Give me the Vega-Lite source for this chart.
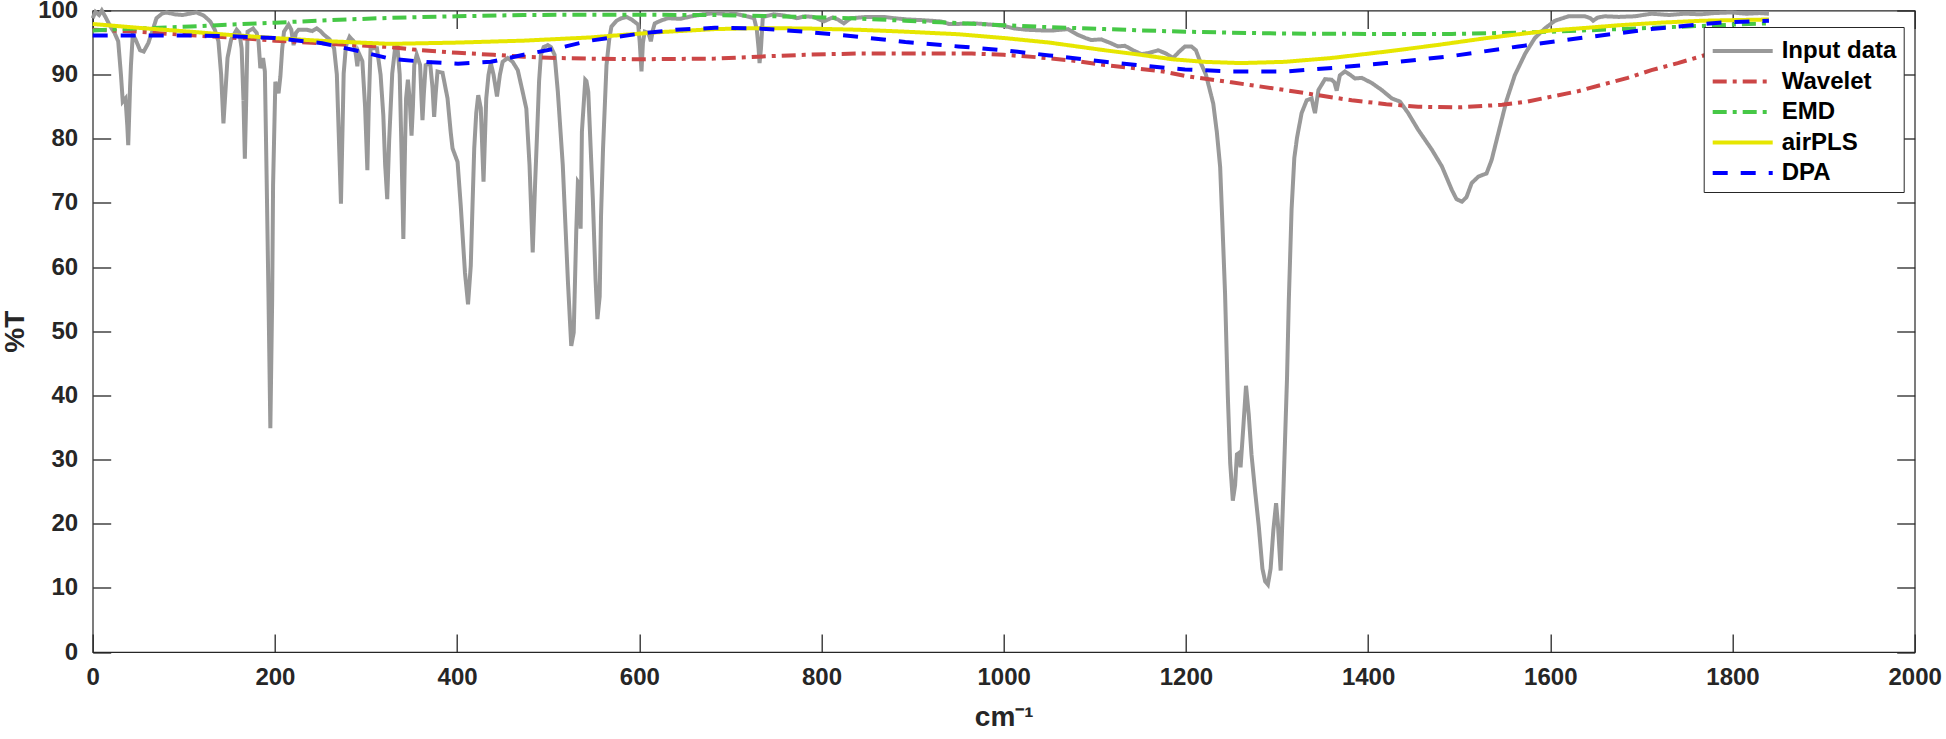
{
  "$schema": "https://vega.github.io/schema/vega-lite/v6.json",
  "width": 1822,
  "height": 641.5,
  "autosize": {"type": "none"},
  "padding": {"left": 92.7, "top": 10.5, "right": 31.3, "bottom": 87},
  "background": "white",
  "config": {
    "view": {"stroke": "#262626", "strokeWidth": 1.2},
    "font": "Liberation Sans"
  },
  "data": {
    "values": [
      {"series":"Input data","x":0,"y":98.8},{"series":"Input data","x":3,"y":99.8},{"series":"Input data","x":7,"y":99.3},{"series":"Input data","x":10,"y":100},{"series":"Input data","x":14,"y":99.0},{"series":"Input data","x":19,"y":97.6},{"series":"Input data","x":24,"y":96.5},{"series":"Input data","x":28,"y":95.2},{"series":"Input data","x":31,"y":90},{"series":"Input data","x":33,"y":85.8},{"series":"Input data","x":36,"y":86.3},{"series":"Input data","x":38,"y":82},{"series":"Input data","x":39,"y":79.0},{"series":"Input data","x":41,"y":88},{"series":"Input data","x":42,"y":91.5},{"series":"Input data","x":44,"y":96.2},{"series":"Input data","x":47,"y":95.5},{"series":"Input data","x":52,"y":93.8},{"series":"Input data","x":56,"y":93.6},{"series":"Input data","x":61,"y":94.9},{"series":"Input data","x":66,"y":97.0},{"series":"Input data","x":70,"y":98.8},{"series":"Input data","x":76,"y":99.5},{"series":"Input data","x":81,"y":99.7},{"series":"Input data","x":90,"y":99.4},{"series":"Input data","x":99,"y":99.3},{"series":"Input data","x":106,"y":99.5},{"series":"Input data","x":114,"y":99.7},{"series":"Input data","x":122,"y":99.2},{"series":"Input data","x":129,"y":98.3},{"series":"Input data","x":134,"y":97.0},{"series":"Input data","x":138,"y":95.2},{"series":"Input data","x":141,"y":90},{"series":"Input data","x":143.5,"y":82.4},{"series":"Input data","x":146,"y":88},{"series":"Input data","x":148,"y":92.6},{"series":"Input data","x":152,"y":95.5},{"series":"Input data","x":158,"y":97.0},{"series":"Input data","x":161,"y":96.5},{"series":"Input data","x":163.5,"y":94.1},{"series":"Input data","x":165.5,"y":86},{"series":"Input data","x":167,"y":76.9},{"series":"Input data","x":168.5,"y":86},{"series":"Input data","x":170,"y":96.7},{"series":"Input data","x":176,"y":97.2},{"series":"Input data","x":180,"y":96.5},{"series":"Input data","x":182,"y":95.2},{"series":"Input data","x":184,"y":91.0},{"series":"Input data","x":187,"y":92.6},{"series":"Input data","x":189,"y":90.5},{"series":"Input data","x":191,"y":73.3},{"series":"Input data","x":193,"y":55},{"series":"Input data","x":195,"y":34.9},{"series":"Input data","x":197,"y":55},{"series":"Input data","x":198,"y":72.8},{"series":"Input data","x":200.5,"y":88.9},{"series":"Input data","x":204,"y":87.1},{"series":"Input data","x":206,"y":89.7},{"series":"Input data","x":208,"y":94},{"series":"Input data","x":210,"y":96.7},{"series":"Input data","x":215,"y":97.8},{"series":"Input data","x":218,"y":97},{"series":"Input data","x":220.5,"y":94.6},{"series":"Input data","x":223,"y":96.5},{"series":"Input data","x":226,"y":97.0},{"series":"Input data","x":235,"y":97.0},{"series":"Input data","x":241,"y":96.8},{"series":"Input data","x":246,"y":97.2},{"series":"Input data","x":250,"y":96.8},{"series":"Input data","x":254,"y":96.2},{"series":"Input data","x":260,"y":95.5},{"series":"Input data","x":265,"y":94.1},{"series":"Input data","x":268,"y":90},{"series":"Input data","x":270,"y":81.1},{"series":"Input data","x":272.5,"y":69.9},{"series":"Input data","x":274,"y":80},{"series":"Input data","x":275.5,"y":90.2},{"series":"Input data","x":278,"y":94.5},{"series":"Input data","x":282,"y":95.9},{"series":"Input data","x":286.5,"y":95.2},{"series":"Input data","x":289,"y":93},{"series":"Input data","x":290.5,"y":91.3},{"series":"Input data","x":292,"y":93.4},{"series":"Input data","x":296,"y":92.1},{"series":"Input data","x":299,"y":85},{"series":"Input data","x":301.5,"y":75.1},{"series":"Input data","x":303,"y":85},{"series":"Input data","x":305,"y":94.1},{"series":"Input data","x":312,"y":94.1},{"series":"Input data","x":316,"y":90},{"series":"Input data","x":319,"y":83.7},{"series":"Input data","x":321,"y":76},{"series":"Input data","x":323.3,"y":70.6},{"series":"Input data","x":325.5,"y":80},{"series":"Input data","x":328.8,"y":90.2},{"series":"Input data","x":332,"y":94.2},{"series":"Input data","x":334.5,"y":94.4},{"series":"Input data","x":337,"y":90},{"series":"Input data","x":339,"y":78},{"series":"Input data","x":341,"y":64.4},{"series":"Input data","x":343,"y":80},{"series":"Input data","x":344,"y":86.3},{"series":"Input data","x":346,"y":89.2},{"series":"Input data","x":348,"y":86},{"series":"Input data","x":350,"y":80.5},{"series":"Input data","x":351.5,"y":85},{"series":"Input data","x":353,"y":91.5},{"series":"Input data","x":355.7,"y":93.1},{"series":"Input data","x":359.4,"y":91.5},{"series":"Input data","x":361,"y":86},{"series":"Input data","x":362,"y":82.9},{"series":"Input data","x":363.5,"y":87},{"series":"Input data","x":365.5,"y":91.5},{"series":"Input data","x":370.4,"y":91.8},{"series":"Input data","x":373,"y":88},{"series":"Input data","x":374.8,"y":83.4},{"series":"Input data","x":376.5,"y":87},{"series":"Input data","x":378.5,"y":90.5},{"series":"Input data","x":384,"y":90.3},{"series":"Input data","x":389.5,"y":86.3},{"series":"Input data","x":393,"y":81},{"series":"Input data","x":395,"y":78.5},{"series":"Input data","x":400.5,"y":76.4},{"series":"Input data","x":404,"y":69.6},{"series":"Input data","x":408.6,"y":59.2},{"series":"Input data","x":412,"y":54.2},{"series":"Input data","x":415,"y":60.2},{"series":"Input data","x":417,"y":70},{"series":"Input data","x":418.8,"y":78.5},{"series":"Input data","x":421,"y":84},{"series":"Input data","x":423.2,"y":86.8},{"series":"Input data","x":426,"y":84.8},{"series":"Input data","x":429,"y":73.3},{"series":"Input data","x":432,"y":86.3},{"series":"Input data","x":434.5,"y":90},{"series":"Input data","x":437,"y":91.8},{"series":"Input data","x":440,"y":90},{"series":"Input data","x":443.8,"y":86.6},{"series":"Input data","x":447,"y":90},{"series":"Input data","x":450,"y":92.0},{"series":"Input data","x":455.5,"y":92.6},{"series":"Input data","x":461,"y":92.0},{"series":"Input data","x":466.6,"y":90.7},{"series":"Input data","x":472,"y":87.3},{"series":"Input data","x":476,"y":84.7},{"series":"Input data","x":479.5,"y":75.9},{"series":"Input data","x":483,"y":62.3},{"series":"Input data","x":485.7,"y":73.3},{"series":"Input data","x":488.6,"y":83.7},{"series":"Input data","x":490,"y":89},{"series":"Input data","x":492,"y":93.1},{"series":"Input data","x":495,"y":94.3},{"series":"Input data","x":499.6,"y":94.6},{"series":"Input data","x":503,"y":94.3},{"series":"Input data","x":507,"y":93.1},{"series":"Input data","x":510.6,"y":87.3},{"series":"Input data","x":516,"y":75.9},{"series":"Input data","x":521.7,"y":57.6},{"series":"Input data","x":525.3,"y":47.7},{"series":"Input data","x":528,"y":49.8},{"series":"Input data","x":530.8,"y":65.6},{"series":"Input data","x":532.6,"y":73.3},{"series":"Input data","x":534,"y":73},{"series":"Input data","x":535.6,"y":66.0},{"series":"Input data","x":537,"y":81.1},{"series":"Input data","x":540.7,"y":89.2},{"series":"Input data","x":542,"y":89},{"series":"Input data","x":544,"y":87.3},{"series":"Input data","x":549,"y":70.6},{"series":"Input data","x":552,"y":58},{"series":"Input data","x":554,"y":51.9},{"series":"Input data","x":556.5,"y":55.4},{"series":"Input data","x":558,"y":68},{"series":"Input data","x":560.2,"y":78.5},{"series":"Input data","x":564,"y":91.5},{"series":"Input data","x":567,"y":95.5},{"series":"Input data","x":569.4,"y":97.5},{"series":"Input data","x":575,"y":98.4},{"series":"Input data","x":580.4,"y":98.8},{"series":"Input data","x":586,"y":99},{"series":"Input data","x":591.5,"y":98.6},{"series":"Input data","x":598.8,"y":97.8},{"series":"Input data","x":600.5,"y":95},{"series":"Input data","x":602.4,"y":90.5},{"series":"Input data","x":604,"y":95},{"series":"Input data","x":606,"y":96.7},{"series":"Input data","x":610,"y":96.5},{"series":"Input data","x":612.7,"y":95.2},{"series":"Input data","x":615,"y":97},{"series":"Input data","x":617,"y":98.0},{"series":"Input data","x":625,"y":98.5},{"series":"Input data","x":631.8,"y":98.8},{"series":"Input data","x":645,"y":98.7},{"series":"Input data","x":657.5,"y":99.1},{"series":"Input data","x":670,"y":99.4},{"series":"Input data","x":683,"y":99.6},{"series":"Input data","x":696,"y":99.4},{"series":"Input data","x":705,"y":99.5},{"series":"Input data","x":718,"y":99.1},{"series":"Input data","x":726,"y":98.8},{"series":"Input data","x":729,"y":97},{"series":"Input data","x":731,"y":94},{"series":"Input data","x":732,"y":91.8},{"series":"Input data","x":733.5,"y":94},{"series":"Input data","x":735.6,"y":99.0},{"series":"Input data","x":747.5,"y":99.4},{"series":"Input data","x":760,"y":99.2},{"series":"Input data","x":773,"y":98.8},{"series":"Input data","x":782,"y":99.1},{"series":"Input data","x":791,"y":99.0},{"series":"Input data","x":802.5,"y":98.3},{"series":"Input data","x":812,"y":98.9},{"series":"Input data","x":818,"y":98.6},{"series":"Input data","x":824.5,"y":98.0},{"series":"Input data","x":832,"y":98.8},{"series":"Input data","x":850,"y":99.0},{"series":"Input data","x":868.6,"y":99.0},{"series":"Input data","x":880,"y":98.8},{"series":"Input data","x":894.5,"y":98.6},{"series":"Input data","x":910,"y":98.5},{"series":"Input data","x":931,"y":98.3},{"series":"Input data","x":940,"y":97.9},{"series":"Input data","x":949,"y":97.9},{"series":"Input data","x":967.7,"y":98.0},{"series":"Input data","x":986,"y":97.8},{"series":"Input data","x":1000,"y":97.6},{"series":"Input data","x":1011.7,"y":97.2},{"series":"Input data","x":1025,"y":97.0},{"series":"Input data","x":1041,"y":96.9},{"series":"Input data","x":1055,"y":96.9},{"series":"Input data","x":1070.5,"y":97.1},{"series":"Input data","x":1081.5,"y":96.2},{"series":"Input data","x":1090,"y":95.7},{"series":"Input data","x":1096,"y":95.4},{"series":"Input data","x":1107,"y":95.5},{"series":"Input data","x":1116,"y":95.0},{"series":"Input data","x":1125.5,"y":94.4},{"series":"Input data","x":1133,"y":94.5},{"series":"Input data","x":1142,"y":93.8},{"series":"Input data","x":1151,"y":93.2},{"series":"Input data","x":1160,"y":93.4},{"series":"Input data","x":1169.6,"y":93.8},{"series":"Input data","x":1178,"y":93.3},{"series":"Input data","x":1186,"y":92.6},{"series":"Input data","x":1192,"y":93.5},{"series":"Input data","x":1199,"y":94.4},{"series":"Input data","x":1206,"y":94.4},{"series":"Input data","x":1211,"y":93.8},{"series":"Input data","x":1215.5,"y":92.1},{"series":"Input data","x":1222,"y":90},{"series":"Input data","x":1230,"y":85.5},{"series":"Input data","x":1234,"y":81},{"series":"Input data","x":1237.6,"y":75.6},{"series":"Input data","x":1240,"y":67},{"series":"Input data","x":1243,"y":55.8},{"series":"Input data","x":1246,"y":40},{"series":"Input data","x":1248.6,"y":29.5},{"series":"Input data","x":1251.5,"y":23.6},{"series":"Input data","x":1254,"y":26},{"series":"Input data","x":1256,"y":30.8},{"series":"Input data","x":1258,"y":31},{"series":"Input data","x":1260,"y":28.8},{"series":"Input data","x":1263,"y":35},{"series":"Input data","x":1266,"y":41.5},{"series":"Input data","x":1269,"y":37},{"series":"Input data","x":1272,"y":30.8},{"series":"Input data","x":1276,"y":25},{"series":"Input data","x":1280,"y":19.6},{"series":"Input data","x":1284,"y":13},{"series":"Input data","x":1287,"y":11.0},{"series":"Input data","x":1290,"y":10.5},{"series":"Input data","x":1293,"y":13},{"series":"Input data","x":1296,"y":19},{"series":"Input data","x":1299,"y":23.2},{"series":"Input data","x":1301,"y":20},{"series":"Input data","x":1304,"y":12.7},{"series":"Input data","x":1307,"y":25},{"series":"Input data","x":1311,"y":42.7},{"series":"Input data","x":1313,"y":55},{"series":"Input data","x":1316,"y":69},{"series":"Input data","x":1319,"y":77},{"series":"Input data","x":1322,"y":80.2},{"series":"Input data","x":1327,"y":84},{"series":"Input data","x":1332.6,"y":86.0},{"series":"Input data","x":1338,"y":86.3},{"series":"Input data","x":1340,"y":85},{"series":"Input data","x":1341.7,"y":84.0},{"series":"Input data","x":1345.5,"y":87.6},{"series":"Input data","x":1352.7,"y":89.3},{"series":"Input data","x":1360,"y":89.2},{"series":"Input data","x":1363,"y":88.8},{"series":"Input data","x":1365.5,"y":87.5},{"series":"Input data","x":1369,"y":89.9},{"series":"Input data","x":1374.6,"y":90.5},{"series":"Input data","x":1380,"y":90},{"series":"Input data","x":1385.6,"y":89.4},{"series":"Input data","x":1393,"y":89.5},{"series":"Input data","x":1404,"y":88.7},{"series":"Input data","x":1415,"y":87.6},{"series":"Input data","x":1426,"y":86.3},{"series":"Input data","x":1435,"y":85.8},{"series":"Input data","x":1444,"y":84.0},{"series":"Input data","x":1455,"y":81.4},{"series":"Input data","x":1470,"y":78.3},{"series":"Input data","x":1481,"y":75.7},{"series":"Input data","x":1492,"y":72.0},{"series":"Input data","x":1497,"y":70.6},{"series":"Input data","x":1503,"y":70.2},{"series":"Input data","x":1508,"y":70.9},{"series":"Input data","x":1513.7,"y":73.1},{"series":"Input data","x":1521,"y":74.1},{"series":"Input data","x":1530,"y":74.6},{"series":"Input data","x":1535.6,"y":76.7},{"series":"Input data","x":1543,"y":80.9},{"series":"Input data","x":1552,"y":86.0},{"series":"Input data","x":1561,"y":89.9},{"series":"Input data","x":1572.5,"y":93.3},{"series":"Input data","x":1583,"y":95.7},{"series":"Input data","x":1594,"y":97.2},{"series":"Input data","x":1605,"y":98.4},{"series":"Input data","x":1620,"y":99.1},{"series":"Input data","x":1638,"y":99.1},{"series":"Input data","x":1644,"y":98.8},{"series":"Input data","x":1647,"y":98.4},{"series":"Input data","x":1652,"y":98.9},{"series":"Input data","x":1660,"y":99.1},{"series":"Input data","x":1675,"y":99.0},{"series":"Input data","x":1693,"y":99.1},{"series":"Input data","x":1711,"y":99.5},{"series":"Input data","x":1730,"y":99.3},{"series":"Input data","x":1748,"y":99.5},{"series":"Input data","x":1765,"y":99.4},{"series":"Input data","x":1780,"y":99.6},{"series":"Input data","x":1799,"y":99.7},{"series":"Input data","x":1815,"y":99.5},{"series":"Input data","x":1830,"y":99.6},{"series":"Input data","x":1840,"y":99.5},
      {"series":"Wavelet","x":0,"y":97.0},{"series":"Wavelet","x":50,"y":96.7},{"series":"Wavelet","x":100,"y":96.2},{"series":"Wavelet","x":150,"y":95.8},{"series":"Wavelet","x":200,"y":95.3},{"series":"Wavelet","x":250,"y":94.9},{"series":"Wavelet","x":300,"y":94.5},{"series":"Wavelet","x":326,"y":94.3},{"series":"Wavelet","x":360,"y":93.8},{"series":"Wavelet","x":401,"y":93.4},{"series":"Wavelet","x":440,"y":93.1},{"series":"Wavelet","x":473,"y":92.8},{"series":"Wavelet","x":510,"y":92.6},{"series":"Wavelet","x":546,"y":92.5},{"series":"Wavelet","x":600,"y":92.4},{"series":"Wavelet","x":683,"y":92.5},{"series":"Wavelet","x":730,"y":92.8},{"series":"Wavelet","x":782,"y":93.1},{"series":"Wavelet","x":840,"y":93.3},{"series":"Wavelet","x":892,"y":93.3},{"series":"Wavelet","x":965,"y":93.3},{"series":"Wavelet","x":1000,"y":93.1},{"series":"Wavelet","x":1038,"y":92.7},{"series":"Wavelet","x":1075,"y":92.2},{"series":"Wavelet","x":1111,"y":91.5},{"series":"Wavelet","x":1150,"y":90.9},{"series":"Wavelet","x":1175,"y":90.5},{"series":"Wavelet","x":1199,"y":89.8},{"series":"Wavelet","x":1250,"y":88.8},{"series":"Wavelet","x":1309,"y":87.6},{"series":"Wavelet","x":1345,"y":86.8},{"series":"Wavelet","x":1382,"y":86.0},{"series":"Wavelet","x":1420,"y":85.4},{"series":"Wavelet","x":1455,"y":85.0},{"series":"Wavelet","x":1499,"y":84.9},{"series":"Wavelet","x":1547,"y":85.3},{"series":"Wavelet","x":1575,"y":85.8},{"series":"Wavelet","x":1602,"y":86.6},{"series":"Wavelet","x":1630,"y":87.4},{"series":"Wavelet","x":1656,"y":88.4},{"series":"Wavelet","x":1685,"y":89.5},{"series":"Wavelet","x":1711,"y":90.7},{"series":"Wavelet","x":1740,"y":91.8},{"series":"Wavelet","x":1764,"y":92.8},{"series":"Wavelet","x":1800,"y":94.3},{"series":"Wavelet","x":1840,"y":95.9},
      {"series":"EMD","x":0,"y":96.9},{"series":"EMD","x":50,"y":97.2},{"series":"EMD","x":107,"y":97.5},{"series":"EMD","x":150,"y":97.8},{"series":"EMD","x":200,"y":98.1},{"series":"EMD","x":260,"y":98.5},{"series":"EMD","x":326,"y":98.85},{"series":"EMD","x":400,"y":99.1},{"series":"EMD","x":473,"y":99.3},{"series":"EMD","x":550,"y":99.35},{"series":"EMD","x":683,"y":99.3},{"series":"EMD","x":782,"y":99.0},{"series":"EMD","x":840,"y":98.75},{"series":"EMD","x":892,"y":98.4},{"series":"EMD","x":950,"y":98.05},{"series":"EMD","x":1001,"y":97.7},{"series":"EMD","x":1050,"y":97.4},{"series":"EMD","x":1111,"y":97.1},{"series":"EMD","x":1150,"y":96.9},{"series":"EMD","x":1199,"y":96.7},{"series":"EMD","x":1250,"y":96.55},{"series":"EMD","x":1309,"y":96.4},{"series":"EMD","x":1400,"y":96.35},{"series":"EMD","x":1492,"y":96.35},{"series":"EMD","x":1550,"y":96.5},{"series":"EMD","x":1602,"y":96.7},{"series":"EMD","x":1675,"y":97.1},{"series":"EMD","x":1720,"y":97.35},{"series":"EMD","x":1766,"y":97.6},{"series":"EMD","x":1800,"y":97.8},{"series":"EMD","x":1840,"y":98.0},
      {"series":"airPLS","x":0,"y":97.9},{"series":"airPLS","x":50,"y":97.3},{"series":"airPLS","x":107,"y":96.7},{"series":"airPLS","x":150,"y":96.2},{"series":"airPLS","x":200,"y":95.7},{"series":"airPLS","x":260,"y":95.2},{"series":"airPLS","x":326,"y":94.8},{"series":"airPLS","x":401,"y":95.0},{"series":"airPLS","x":473,"y":95.3},{"series":"airPLS","x":546,"y":95.8},{"series":"airPLS","x":619,"y":96.6},{"series":"airPLS","x":683,"y":97.1},{"series":"airPLS","x":730,"y":97.25},{"series":"airPLS","x":782,"y":97.2},{"series":"airPLS","x":840,"y":97.0},{"series":"airPLS","x":892,"y":96.7},{"series":"airPLS","x":950,"y":96.3},{"series":"airPLS","x":1001,"y":95.7},{"series":"airPLS","x":1050,"y":95.0},{"series":"airPLS","x":1111,"y":93.8},{"series":"airPLS","x":1150,"y":93.1},{"series":"airPLS","x":1185,"y":92.4},{"series":"airPLS","x":1220,"y":92.0},{"series":"airPLS","x":1260,"y":91.8},{"series":"airPLS","x":1309,"y":92.0},{"series":"airPLS","x":1360,"y":92.6},{"series":"airPLS","x":1420,"y":93.6},{"series":"airPLS","x":1475,"y":94.6},{"series":"airPLS","x":1530,"y":95.7},{"series":"airPLS","x":1565,"y":96.3},{"series":"airPLS","x":1602,"y":96.9},{"series":"airPLS","x":1640,"y":97.3},{"series":"airPLS","x":1675,"y":97.7},{"series":"airPLS","x":1720,"y":98.1},{"series":"airPLS","x":1766,"y":98.4},{"series":"airPLS","x":1800,"y":98.5},{"series":"airPLS","x":1840,"y":98.6},
      {"series":"DPA","x":0,"y":96.1},{"series":"DPA","x":50,"y":96.1},{"series":"DPA","x":107,"y":96.1},{"series":"DPA","x":150,"y":96.0},{"series":"DPA","x":200,"y":95.7},{"series":"DPA","x":252,"y":94.9},{"series":"DPA","x":288,"y":93.8},{"series":"DPA","x":326,"y":92.5},{"series":"DPA","x":363,"y":92.0},{"series":"DPA","x":401,"y":91.7},{"series":"DPA","x":437,"y":92.0},{"series":"DPA","x":473,"y":93.1},{"series":"DPA","x":510,"y":94.1},{"series":"DPA","x":546,"y":95.3},{"series":"DPA","x":601,"y":96.4},{"series":"DPA","x":640,"y":97.0},{"series":"DPA","x":683,"y":97.3},{"series":"DPA","x":730,"y":97.2},{"series":"DPA","x":782,"y":96.7},{"series":"DPA","x":840,"y":95.9},{"series":"DPA","x":892,"y":95.1},{"series":"DPA","x":950,"y":94.4},{"series":"DPA","x":1001,"y":93.8},{"series":"DPA","x":1050,"y":93.0},{"series":"DPA","x":1111,"y":92.0},{"series":"DPA","x":1160,"y":91.3},{"series":"DPA","x":1199,"y":90.8},{"series":"DPA","x":1250,"y":90.5},{"series":"DPA","x":1309,"y":90.5},{"series":"DPA","x":1365,"y":91.1},{"series":"DPA","x":1420,"y":91.8},{"series":"DPA","x":1492,"y":92.9},{"series":"DPA","x":1565,"y":94.4},{"series":"DPA","x":1638,"y":95.8},{"series":"DPA","x":1711,"y":97.1},{"series":"DPA","x":1785,"y":98.1},{"series":"DPA","x":1840,"y":98.4}
    ]
  },
  "encoding": {
    "x": {"field": "x", "type": "quantitative", "scale": {"domain": [0, 2000], "nice": false, "zero": false}},
    "y": {"field": "y", "type": "quantitative", "scale": {"domain": [0, 100], "nice": false, "zero": false}}
  },
  "layer": [
    {
      "transform": [{"filter": "datum.series === 'Input data'"}],
      "mark": {"type": "line", "opacity": 0},
      "encoding": {
        "x": {"field": "x", "type": "quantitative", "axis": {"orient": "bottom", "offset": -18, "values": [0,200,400,600,800,1000,1200,1400,1600,1800,2000], "format": "d", "ticks": true, "tickSize": 18, "tickColor": "#262626", "tickWidth": 1.3, "domain": false, "grid": false, "labelFont": "Liberation Sans", "labelFontSize": 24, "labelFontWeight": "bold", "labelColor": "#262626", "labelPadding": 13, "labelFlush": false, "labelOverlap": false, "title": "cm⁻¹", "titleFont": "Liberation Sans", "titleFontSize": 28, "titleFontWeight": "bold", "titleColor": "#262626", "titleX": 911, "titleY": 83, "titleBaseline": "middle", "titleAlign": "center"}},
        "y": {"field": "y", "type": "quantitative", "axis": {"orient": "left", "offset": -18, "values": [0,10,20,30,40,50,60,70,80,90,100], "format": "d", "ticks": true, "tickSize": 18, "tickColor": "#262626", "tickWidth": 1.3, "domain": false, "grid": false, "labelFont": "Liberation Sans", "labelFontSize": 24, "labelFontWeight": "bold", "labelColor": "#262626", "labelPadding": 15, "labelFlush": false, "labelOverlap": false, "title": "%T", "titleFont": "Liberation Sans", "titleFontSize": 28, "titleFontWeight": "bold", "titleColor": "#262626", "titleX": -95.7, "titleY": 320.75, "titleAngle": -90, "titleBaseline": "middle", "titleAlign": "center"}}
      }
    },
    {
      "transform": [{"filter": "datum.series === 'Input data'"}],
      "mark": {"type": "line", "opacity": 0},
      "encoding": {
        "x": {"field": "x", "type": "quantitative", "axis": {"orient": "top", "offset": -18, "values": [0,200,400,600,800,1000,1200,1400,1600,1800,2000], "ticks": true, "tickSize": 18, "tickColor": "#262626", "tickWidth": 1.3, "domain": false, "grid": false, "labels": false, "title": null}},
        "y": {"field": "y", "type": "quantitative", "axis": {"orient": "right", "offset": -18, "values": [0,10,20,30,40,50,60,70,80,90,100], "ticks": true, "tickSize": 18, "tickColor": "#262626", "tickWidth": 1.3, "domain": false, "grid": false, "labels": false, "title": null}}
      }
    },
    {
      "layer": [
        {"transform": [{"filter": "datum.series === 'Input data'"}], "mark": {"type": "line", "strokeWidth": 4}, "encoding": {"x": {"field": "x", "type": "quantitative", "axis": null}, "y": {"field": "y", "type": "quantitative", "axis": null}}},
        {"transform": [{"filter": "datum.series === 'Wavelet'"}], "mark": {"type": "line", "strokeWidth": 4}, "encoding": {"x": {"field": "x", "type": "quantitative", "axis": null}, "y": {"field": "y", "type": "quantitative", "axis": null}}},
        {"transform": [{"filter": "datum.series === 'EMD'"}], "mark": {"type": "line", "strokeWidth": 4}, "encoding": {"x": {"field": "x", "type": "quantitative", "axis": null}, "y": {"field": "y", "type": "quantitative", "axis": null}}},
        {"transform": [{"filter": "datum.series === 'airPLS'"}], "mark": {"type": "line", "strokeWidth": 4}, "encoding": {"x": {"field": "x", "type": "quantitative", "axis": null}, "y": {"field": "y", "type": "quantitative", "axis": null}}},
        {"transform": [{"filter": "datum.series === 'DPA'"}], "mark": {"type": "line", "strokeWidth": 4}, "encoding": {"x": {"field": "x", "type": "quantitative", "axis": null}, "y": {"field": "y", "type": "quantitative", "axis": null}}}
      ],
      "encoding": {
        "color": {
          "field": "series", "type": "nominal",
          "scale": {"domain": ["Input data", "Wavelet", "EMD", "airPLS", "DPA"], "range": ["#999999", "#CC4646", "#46C846", "#E6E600", "#0000FF"]},
          "legend": {"orient": "none", "legendX": 1611, "legendY": 16.5, "title": null, "symbolType": "M-1,0H3", "symbolSize": 900, "symbolStrokeWidth": 4, "symbolFillColor": "transparent", "labelFont": "Liberation Sans", "labelFontSize": 24, "labelFontWeight": "bold", "labelColor": "#000000", "labelOffset": 37, "rowPadding": 1.5, "padding": 7, "strokeColor": "#262626", "fillColor": "white", "labelLimit": 300}
        },
        "strokeDash": {
          "field": "series", "type": "nominal",
          "scale": {"domain": ["Input data", "Wavelet", "EMD", "airPLS", "DPA"], "range": [[1, 0], [14, 6, 4, 6], [14, 6, 4, 6], [1, 0], [15, 13]]},
          "legend": {"orient": "none", "legendX": 1611, "legendY": 16.5, "title": null, "symbolType": "M-1,0H3", "symbolSize": 900, "symbolStrokeWidth": 4, "symbolFillColor": "transparent", "labelFont": "Liberation Sans", "labelFontSize": 24, "labelFontWeight": "bold", "labelColor": "#000000", "labelOffset": 37, "rowPadding": 1.5, "padding": 7, "strokeColor": "#262626", "fillColor": "white", "labelLimit": 300}
        }
      }
    }
  ],
  "resolve": {"axis": {"x": "independent", "y": "independent"}}
}
